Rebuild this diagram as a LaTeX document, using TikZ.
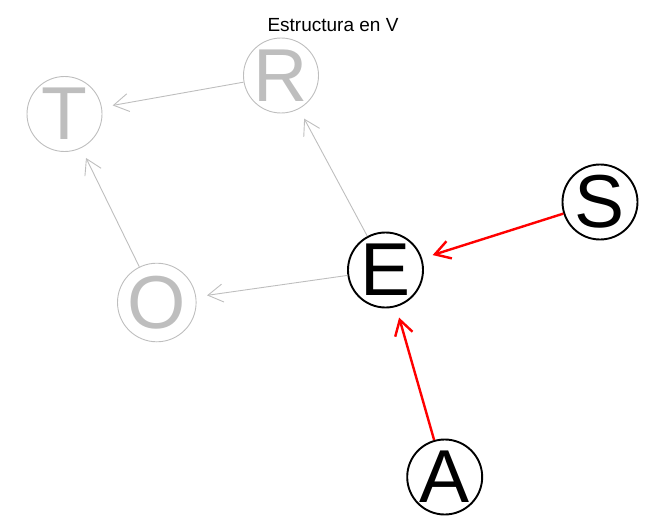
\documentclass[tikz,border=0pt]{standalone}
\usepackage{fontspec}
\setmainfont{Liberation Sans}
\usepackage{xcolor}
\usepackage{tikz}
\usetikzlibrary{arrows.meta}
\definecolor{faded}{RGB}{190,190,190}

\begin{document}
\begin{tikzpicture}[x=1pt,y=-1pt,
  var/.style={circle, draw, minimum size=75pt, inner sep=0pt, font=\fontsize{75}{75}\selectfont},
  onvar/.style={var, black, line width=1.9pt},
  offvar/.style={var, faded, line width=0.9pt},
  arc/.style={-{Straight Barb[length=15pt,width=18pt]}, shorten >=11pt},
  onarc/.style={arc, red, line width=2.4pt},
  offarc/.style={arc, faded, line width=0.9pt}]
\useasboundingbox (0,0) rectangle (664,519);
\node at (333,31.7) [anchor=base, font=\fontsize{19}{19}\selectfont] (title) {Estructura en V};
\node at (64.5,114) [offvar] (T) {T};
\node at (281,75.5) [offvar] (R) {R};
\node at (156.8,302.5) [offvar] (O) {O};
\node at (385.5,270) [onvar] (E) {E};
\node at (600,202) [onvar] (S) {S};
\node at (444.7,477) [onvar] (A) {A};
\draw (R)[offarc] -- (T);
\draw (O)[offarc] -- (T);
\draw (E)[offarc] -- (R);
\draw (E)[offarc] -- (O);
\draw (S)[onarc] -- (E);
\draw (A)[onarc] -- (E);
\end{tikzpicture}
\end{document}
